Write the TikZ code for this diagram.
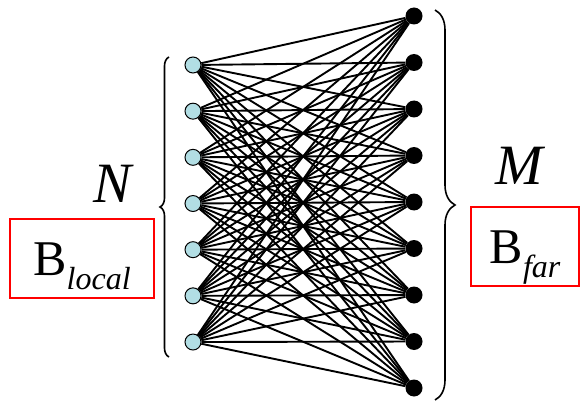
\documentclass[tikz,border=0pt]{standalone}
\usepackage{fontspec}
\setmainfont{Liberation Serif}
\usetikzlibrary{decorations.pathreplacing}
\definecolor{nodecyan}{RGB}{178,222,228}
\begin{document}
\begin{tikzpicture}[
  x=1pt, y=-1pt,
  localpt/.style={circle, draw=black, line width=1pt, fill=nodecyan, minimum size=16pt, inner sep=0pt},
  farpt/.style={circle, fill=black, minimum size=17pt, inner sep=0pt},
  link/.style={line width=1.9pt},
  curly/.style={decorate, decoration={brace, amplitude=#1}, line width=1.6pt},
  bufbox/.style={draw=red, line width=1.5pt, inner sep=0pt, text height=56pt, text depth=23pt},
  setlbl/.style={font=\fontsize{57}{57}\selectfont\itshape, anchor=base, inner sep=0pt}
]
\useasboundingbox (0,0) rectangle (581,401);

% Column positions: local nodes at x=193, far nodes at x=414
\def\lx{193}
\def\rx{414}

% Local nodes (N) and far nodes (M)
\foreach \i in {1,...,7}{
  \node[localpt] (l\i) at (\lx, {65+46.17*(\i-1)}) {};
}
\foreach \j in {1,...,9}{
  \node[farpt] (r\j) at (\rx, {16+46.5*(\j-1)}) {};
}

% Every local node talks to every far node
\foreach \i in {1,...,7}{
  \foreach \j in {1,...,9}{
    \draw[link] (l\i) -- (r\j);
  }
}

% Braces round the two columns
\coordinate (lbtop) at (169,57);
\coordinate (lbbot) at (169,357);
\coordinate (rbtop) at (435,10);
\coordinate (rbbot) at (435,400);
\draw[curly=9pt] (lbbot) -- (lbtop);
\draw[curly=20pt] (rbtop) -- (rbbot);

% Set sizes
\node[setlbl] (nlbl) at (113,202) {N};
\node[setlbl] (mlbl) at (519,185) {M};

% Buffers
\node[bufbox, minimum width=144pt] (blocal) at (82,258.5)
  {{\fontsize{50}{50}\selectfont B}\raisebox{-14pt}{\fontsize{32}{32}\selectfont\itshape local}};
\node[bufbox, minimum width=108pt] (bfar) at (525,246.5)
  {{\fontsize{50}{50}\selectfont B}\raisebox{-14pt}{\fontsize{32}{32}\selectfont\itshape far}};

\end{tikzpicture}
\end{document}
